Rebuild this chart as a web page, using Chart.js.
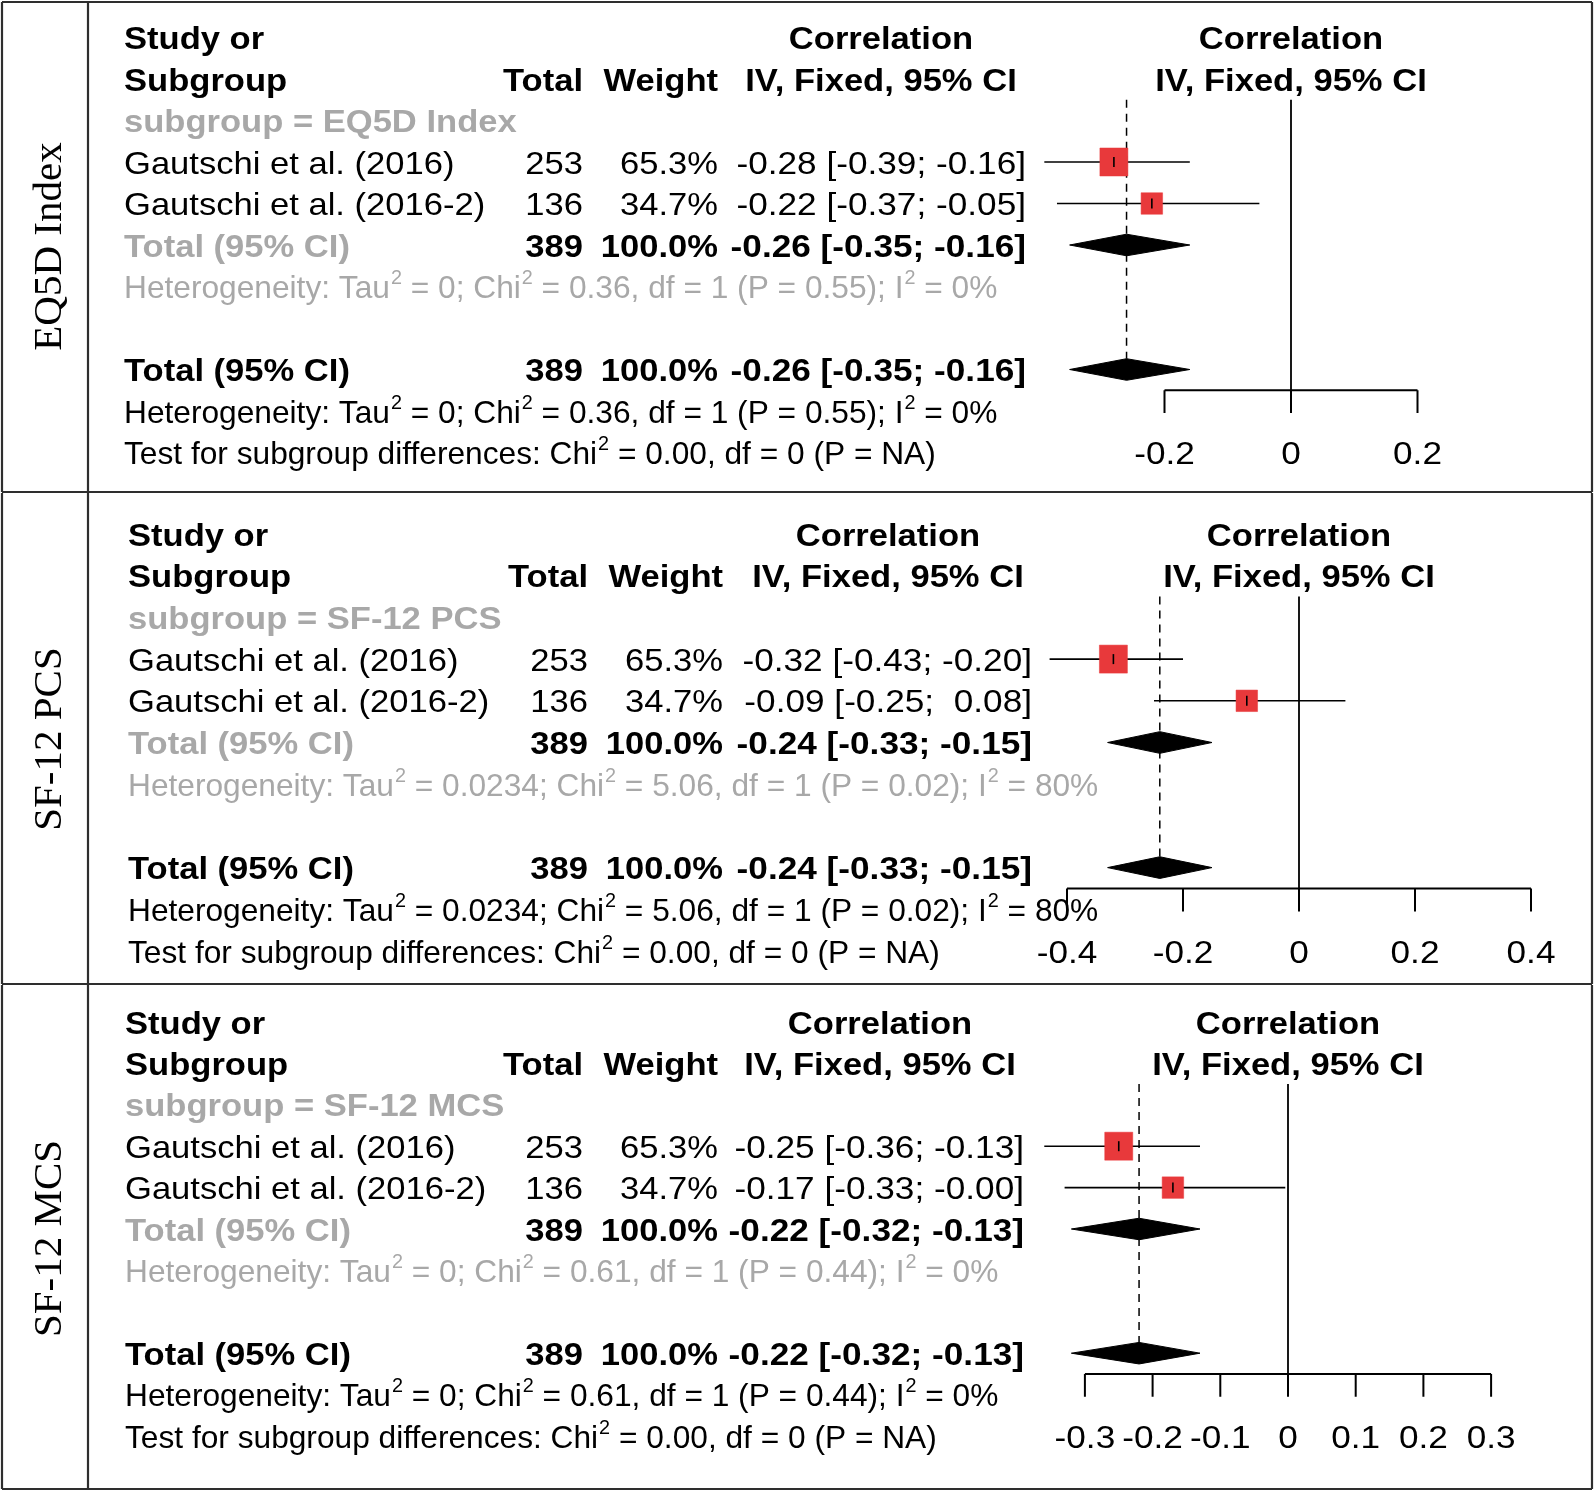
<!DOCTYPE html>
<html><head><meta charset="utf-8">
<script src="https://cdn.jsdelivr.net/npm/chart.js@4.4.1/dist/chart.umd.min.js"></script>
<style>
html,body{margin:0;padding:0;background:#fff;}
#wrap{position:relative;width:1594px;height:1492px;}
#wrap canvas{position:absolute;left:0;}
</style></head>
<body><div id="wrap">
<canvas id="c0"></canvas><canvas id="c1"></canvas><canvas id="c2"></canvas>
</div>
<script>
// ---------------- DATA ----------------
const panelLabels = ["EQ5D Index", "SF-12 PCS", "SF-12 MCS"];
const subgroupNames = ["EQ5D Index", "SF-12 PCS", "SF-12 MCS"];
const studyNames = ["Gautschi et al. (2016)", "Gautschi et al. (2016-2)"];
const studyTotals = [253, 136];
const studyWeights = [65.3, 34.7];
const studyEst = [[-0.28, -0.22], [-0.32, -0.09], [-0.25, -0.17]];
const studyLo  = [[-0.39, -0.37], [-0.43, -0.25], [-0.36, -0.33]];
const studyHi  = [[-0.16, -0.05], [-0.20, 0.08], [-0.13, -0.004]];
const pooledEst = [-0.26, -0.24, -0.22];
const pooledLo  = [-0.35, -0.33, -0.32];
const pooledHi  = [-0.16, -0.15, -0.13];
const pooledTotal = 389;
const pooledWeight = 100.0;
const tau2 = ["0", "0.0234", "0"];
const chi2 = ["0.36", "5.06", "0.61"];
const dfs = [1, 1, 1];
const pvals = ["0.55", "0.02", "0.44"];
const i2 = ["0%", "80%", "0%"];
const subChi2 = "0.00", subDf = 0, subP = "NA";
const tickValues = [[-0.2, 0, 0.2], [-0.4, -0.2, 0, 0.2, 0.4], [-0.3, -0.2, -0.1, 0, 0.1, 0.2, 0.3]];
const tickLabels = [["-0.2", "0", "0.2"], ["-0.4", "-0.2", "0", "0.2", "0.4"], ["-0.3", "-0.2", "-0.1", "0", "0.1", "0.2", "0.3"]];

// ---------------- LAYOUT / STYLE ----------------
const W = 1594;
const panelTop = [0, 493, 985];
const panelH = [493, 492, 507];
const rowTop = [37.5, 41, 37];
const rowStep = [41.5, 41.7, 41.4];
const zeroPx = [1291, 1299, 1288];
const pxPerUnit = [632.5, 580, 677];
const colStudy = [124, 128, 125];
const colTotal = [583, 588, 583];
const colWeight = [718, 723, 718];
const colCI = [1026, 1032, 1024];
const colHead = [881, 888, 880];
const FS = 32;
const SX = 1.08;      // horizontal stretch of the main table text
const SX_NUM = 1.10;  // stretch of numeric CI text
const SX_HET = 0.99;  // stretch of heterogeneity lines
const FONT = '"Liberation Sans", Arial, Helvetica, sans-serif';
const SERIF = '"Liberation Serif", "Times New Roman", serif';
const GRAY = '#a8a8a8';
const RED = '#e8393b';
const BORDER = '#2e2e2e';
const TEXT_DY = 11.5;
const SUP_FS = 20;
const SUP_RAISE = 14;
const SQUARE_R = [19.8, 15.2];
const DIAMOND_HALF = 0.26;
const REF_TOP = 1.5;
const AXIS_ROW = 8.5;
const TICK_END = 9.05;
const TICK_LABEL_ROW = 10;

const f2 = v => v.toFixed(2).padStart(5, ' ');
const ciText = (e, l, h) => `${f2(e)} [${f2(l)}; ${f2(h)}]`;

function drawSegs(ctx, x, y, segs, bold, color) {
  ctx.save();
  ctx.fillStyle = color;
  ctx.textAlign = 'left';
  ctx.textBaseline = 'alphabetic';
  ctx.translate(x, y);
  ctx.scale(SX_HET, 1);
  let cx = 0;
  for (const s of segs) {
    if (s.sup) {
      ctx.font = `${SUP_FS}px ${FONT}`;
      ctx.fillText(s.t, cx + 1, -SUP_RAISE);
      cx += ctx.measureText(s.t).width + 1;
    } else {
      ctx.font = `${bold ? 'bold ' : ''}${FS}px ${FONT}`;
      ctx.fillText(s.t, cx, 0);
      cx += ctx.measureText(s.t).width;
    }
  }
  ctx.restore();
}
function txt(ctx, s, x, y, align, bold, color, sx) {
  ctx.save();
  ctx.font = `${bold ? 'bold ' : ''}${FS}px ${FONT}`;
  ctx.fillStyle = color;
  ctx.textAlign = align;
  ctx.textBaseline = 'alphabetic';
  ctx.translate(x, y);
  ctx.scale(sx || SX, 1);
  ctx.fillText(s, 0, 0);
  ctx.restore();
}

function makePanel(p) {
  const H = panelH[p];
  const cv = document.getElementById('c' + p);
  cv.width = W; cv.height = H;
  cv.style.width = W + 'px'; cv.style.height = H + 'px';
  cv.style.top = panelTop[p] + 'px';
  const yMin = -rowTop[p] / rowStep[p];
  const yMax = yMin + H / rowStep[p];
  const xMin = -zeroPx[p] / pxPerUnit[p];
  const xMax = (W - zeroPx[p]) / pxPerUnit[p];

  const datasets = [];
  // tick marks inside squares
  datasets.push({
    data: studyEst[p].map((e, i) => ({x: e, y: 3 + i})),
    pointStyle: 'line', pointRotation: 90, pointRadius: 5,
    pointBorderColor: '#000', pointBorderWidth: 1.6, order: 0
  });
  // squares
  datasets.push({
    data: studyEst[p].map((e, i) => ({x: e, y: 3 + i})),
    pointStyle: 'rect', pointRadius: SQUARE_R,
    pointBackgroundColor: RED, pointBorderColor: RED, pointBorderWidth: 0.5, order: 1
  });
  // CI lines
  studyEst[p].forEach((e, i) => {
    datasets.push({
      data: [{x: studyLo[p][i], y: 3 + i}, {x: studyHi[p][i], y: 3 + i}],
      showLine: true, borderColor: '#000', borderWidth: 1.6, pointRadius: 0, order: 2
    });
  });
  // diamonds (subgroup pooled row 5, overall row 8)
  [5, 8].forEach(r => {
    datasets.push({
      data: [
        {x: pooledLo[p], y: r}, {x: pooledEst[p], y: r - DIAMOND_HALF},
        {x: pooledHi[p], y: r}, {x: pooledEst[p], y: r + DIAMOND_HALF},
        {x: pooledLo[p], y: r}
      ],
      showLine: true, fill: 'shape', backgroundColor: '#000', borderColor: '#000',
      borderWidth: 1, pointRadius: 0, order: 2
    });
  });
  // dashed pooled-estimate line
  datasets.push({
    data: [{x: pooledEst[p], y: REF_TOP}, {x: pooledEst[p], y: 8 - DIAMOND_HALF}],
    showLine: true, borderColor: '#000', borderWidth: 1.5, borderDash: [8, 6], pointRadius: 0, order: 3
  });
  // zero line
  datasets.push({
    data: [{x: 0, y: REF_TOP}, {x: 0, y: AXIS_ROW}],
    showLine: true, borderColor: '#000', borderWidth: 1.8, pointRadius: 0, order: 4
  });

  const textPlugin = {
    id: 'forestText' + p,
    beforeDatasetsDraw(chart) {
      const ctx = chart.ctx;
      const ys = chart.scales.y, xs = chart.scales.x;
      const by = r => ys.getPixelForValue(r) + TEXT_DY;
      const tv = tickValues[p];
      const plotMid = (xs.getPixelForValue(tv[0]) + xs.getPixelForValue(tv[tv.length - 1])) / 2;
      // headers
      txt(ctx, 'Study or', colStudy[p], by(0), 'left', true, '#000');
      txt(ctx, 'Correlation', colHead[p], by(0), 'center', true, '#000');
      txt(ctx, 'Correlation', plotMid, by(0), 'center', true, '#000');
      txt(ctx, 'Subgroup', colStudy[p], by(1), 'left', true, '#000');
      txt(ctx, 'Total', colTotal[p], by(1), 'right', true, '#000');
      txt(ctx, 'Weight', colWeight[p], by(1), 'right', true, '#000');
      txt(ctx, 'IV, Fixed, 95% CI', colHead[p], by(1), 'center', true, '#000');
      txt(ctx, 'IV, Fixed, 95% CI', plotMid, by(1), 'center', true, '#000');
      txt(ctx, 'subgroup = ' + subgroupNames[p], colStudy[p], by(2), 'left', true, GRAY);
      // studies
      studyNames.forEach((n, i) => {
        const r = 3 + i;
        txt(ctx, n, colStudy[p], by(r), 'left', false, '#000');
        txt(ctx, String(studyTotals[i]), colTotal[p], by(r), 'right', false, '#000');
        txt(ctx, studyWeights[i].toFixed(1) + '%', colWeight[p], by(r), 'right', false, '#000');
        txt(ctx, ciText(studyEst[p][i], studyLo[p][i], studyHi[p][i]), colCI[p], by(r), 'right', false, '#000', SX_NUM);
      });
      const het = [
        {t: 'Heterogeneity: Tau'}, {t: '2', sup: 1},
        {t: ` = ${tau2[p]}; Chi`}, {t: '2', sup: 1},
        {t: ` = ${chi2[p]}, df = ${dfs[p]} (P = ${pvals[p]}); I`}, {t: '2', sup: 1},
        {t: ` = ${i2[p]}`}
      ];
      [[5, GRAY], [8, '#000']].forEach(([r, c]) => {
        txt(ctx, 'Total (95% CI)', colStudy[p], by(r), 'left', true, c);
        txt(ctx, String(pooledTotal), colTotal[p], by(r), 'right', true, '#000');
        txt(ctx, pooledWeight.toFixed(1) + '%', colWeight[p], by(r), 'right', true, '#000');
        txt(ctx, ciText(pooledEst[p], pooledLo[p], pooledHi[p]), colCI[p], by(r), 'right', true, '#000', SX_NUM);
      });
      drawSegs(ctx, colStudy[p], by(6), het, false, GRAY);
      drawSegs(ctx, colStudy[p], by(9), het, false, '#000');
      drawSegs(ctx, colStudy[p], by(10), [
        {t: 'Test for subgroup differences: Chi'}, {t: '2', sup: 1},
        {t: ` = ${subChi2}, df = ${subDf} (P = ${subP})`}
      ], false, '#000');
    },
    afterDatasetsDraw(chart) {
      const ctx = chart.ctx;
      const ys = chart.scales.y, xs = chart.scales.x;
      const tv = tickValues[p];
      const ay = ys.getPixelForValue(AXIS_ROW);
      const ty = ys.getPixelForValue(TICK_END);
      ctx.save();
      ctx.strokeStyle = '#000';
      ctx.lineWidth = 2;
      ctx.beginPath();
      ctx.moveTo(xs.getPixelForValue(tv[0]), ay);
      ctx.lineTo(xs.getPixelForValue(tv[tv.length - 1]), ay);
      tv.forEach(v => {
        const x = xs.getPixelForValue(v);
        ctx.moveTo(x, ay); ctx.lineTo(x, ty);
      });
      ctx.stroke();
      ctx.restore();
      tv.forEach((v, i) => {
        txt(ctx, tickLabels[p][i], xs.getPixelForValue(v), ys.getPixelForValue(TICK_LABEL_ROW) + TEXT_DY, 'center', false, '#000', SX_NUM);
      });
    },
    afterDraw(chart) {
      const ctx = chart.ctx;
      ctx.save();
      // rotated panel label
      ctx.translate(61, H / 2);
      ctx.rotate(-Math.PI / 2);
      ctx.font = `41px ${SERIF}`;
      ctx.fillStyle = '#000';
      ctx.textAlign = 'center';
      ctx.textBaseline = 'alphabetic';
      ctx.fillText(panelLabels[p], 0, 0);
      ctx.setTransform(1, 0, 0, 1, 0, 0);
      // borders
      ctx.strokeStyle = BORDER;
      ctx.lineWidth = 2.2;
      ctx.beginPath();
      const top = p === 0 ? 2 : 0;
      const bot = p === 2 ? H - 3 : H - 1;
      ctx.moveTo(2, top); ctx.lineTo(2, bot);
      ctx.moveTo(W - 2, top); ctx.lineTo(W - 2, bot);
      ctx.moveTo(88, top); ctx.lineTo(88, bot);
      if (p === 0) { ctx.moveTo(2, top); ctx.lineTo(W - 2, top); }
      ctx.moveTo(2, bot); ctx.lineTo(W - 2, bot);
      ctx.stroke();
      ctx.restore();
    }
  };

  new Chart(cv, {
    type: 'scatter',
    data: {datasets},
    options: {
      responsive: false, animation: false, devicePixelRatio: 1, events: [],
      layout: {padding: 0, autoPadding: false},
      scales: {
        x: {type: 'linear', min: xMin, max: xMax, display: false},
        y: {type: 'linear', min: yMin, max: yMax, reverse: true, display: false}
      },
      plugins: {legend: {display: false}, tooltip: {enabled: false}},
      elements: {line: {tension: 0}}
    },
    plugins: [textPlugin]
  });
}
[0, 1, 2].forEach(makePanel);
</script>
</body></html>
